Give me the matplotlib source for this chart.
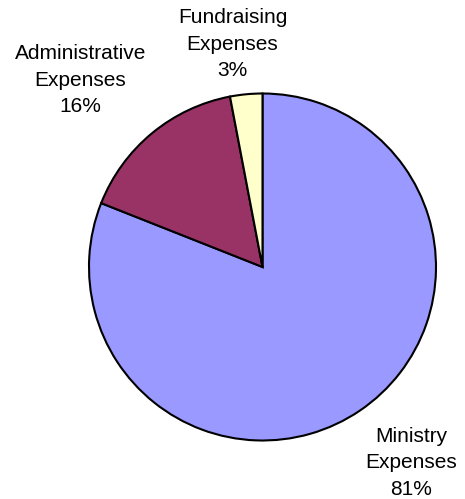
import matplotlib.pyplot as plt

# expense breakdown
labels = ['Ministry\nExpenses\n81%', 'Administrative\nExpenses\n16%', 'Fundraising\nExpenses\n3%']
values = [81, 16, 3]
colors = ['#9999FF', '#993366', '#FFFFCC']

plt.rcParams['font.family'] = ['Liberation Sans', 'DejaVu Sans']

fig = plt.figure(figsize=(4.65, 4.99), dpi=100)
ax = fig.add_axes([0, 0, 1, 1])

ax.pie(values, colors=colors, startangle=90, counterclock=False,
       center=(262.5, 232), radius=173.5, frame=True,
       wedgeprops=dict(edgecolor='black', linewidth=1.5))
ax.set_xlim(0, 465)
ax.set_ylim(0, 499)
ax.set_aspect('equal')
ax.axis('off')

# label positions (pixels from bottom-left, last-line baseline)
label_pos = [(411, 4), (80.5, 387), (232.5, 423)]
for txt, (x, y) in zip(labels, label_pos):
    ax.text(x, y, txt, ha='center', va='baseline', fontsize=15,
            linespacing=1.5)

fig.savefig('out.png', dpi=100)
